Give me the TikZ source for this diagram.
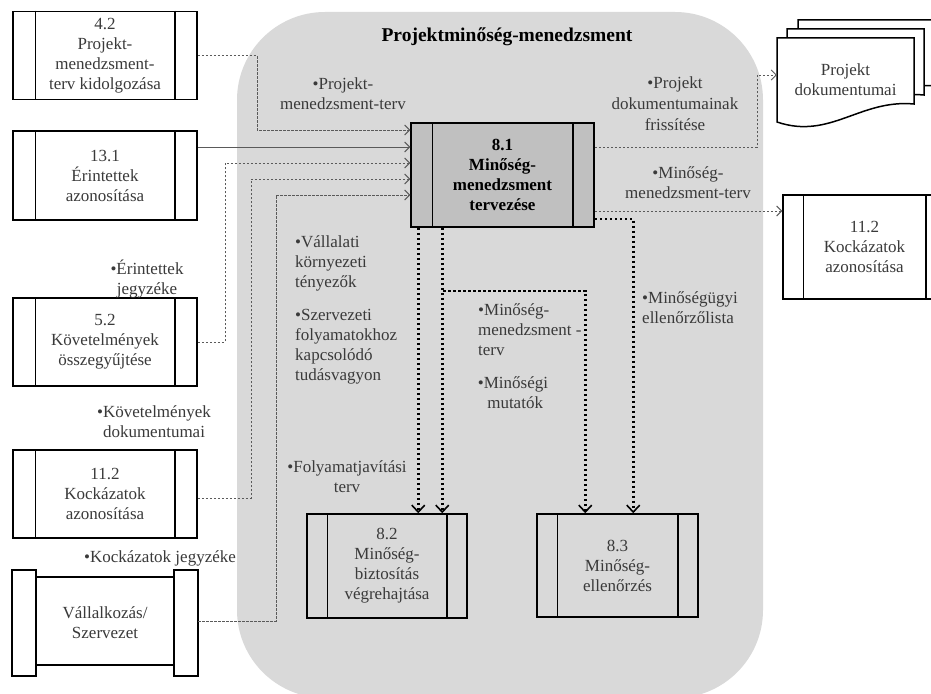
\documentclass[tikz,border=0pt]{standalone}
\usepackage{fontspec}
\setmainfont{Liberation Serif}
\usetikzlibrary{arrows.meta}
\definecolor{regiongray}{HTML}{D9D9D9}
\definecolor{boxdark}{HTML}{C0C0C0}
\definecolor{txtgray}{HTML}{3A3A3A}
\definecolor{linegray}{HTML}{5A5A5A}
\begin{document}
\begin{tikzpicture}[x=1pt,y=-1pt,
  txt/.style={font=\fontsize{17}{20}\selectfont, text=txtgray, align=center, inner sep=0pt},
  btxt/.style={font=\fontsize{17}{20}\selectfont\bfseries, text=black, align=center, inner sep=0pt},
  pbox/.style={draw=black, line width=1.5pt, minimum width=184pt, minimum height=88pt, inner sep=0pt, txt},
  bar/.style={draw=black, line width=1.5pt},
  dl/.style={draw=linegray, line width=0.9pt, dash pattern=on 2.5pt off 1.5pt},
  sl/.style={draw=linegray, line width=0.9pt},
  arr/.style={-{Straight Barb[length=5pt,width=10pt,line width=0.9pt]}},
  dt/.style={draw=black, line width=2.8pt, dash pattern=on 2.6pt off 2.4pt},
  dtarr/.style={-{Straight Barb[length=7pt,width=13pt,line width=1.6pt]}},
  doc/.style={fill=white, draw=black, line width=1.5pt}
]
\useasboundingbox (0,0) rectangle (931,693);
\fill[white] (0,0) rectangle (931,693);
% region
\fill[regiongray, rounded corners=88pt] (237,12) rectangle (763,698);
\node[font=\fontsize{19.5}{22}\selectfont\bfseries, text=black, inner sep=0pt] (title) at (507,37) {Projektminőség-menedzsment};

% left process boxes
\node[pbox, fill=white] (b42) at (105,55.5) {4.2\\Projekt-\\menedzsment-\\terv kidolgozása};
\node[pbox, fill=white, minimum height=89pt] (b131) at (105,175.5) {13.1\\Érintettek\\azonosítása};
\node[pbox, fill=white] (b52) at (105,342) {5.2\\Követelmények\\összegyűjtése};
\node[pbox, fill=white] (b112l) at (105,494) {11.2\\Kockázatok\\azonosítása};
\foreach \n in {b42,b131,b52,b112l}{
  \draw[bar] ([xshift=23pt]\n.north west) -- ([xshift=23pt]\n.south west);
  \draw[bar] ([xshift=-23pt]\n.north east) -- ([xshift=-23pt]\n.south east);
}
% Vallalkozas / Szervezet
\draw[bar, fill=white] (36,577) rectangle (174,665);
\draw[bar, fill=white] (12,570) rectangle (36,676);
\draw[bar, fill=white] (174,570) rectangle (198,676);
\node[txt, minimum width=186pt, minimum height=106pt] (vsz) at (105,623) {Vállalkozás/\\Szervezet};

% central box
\node[pbox, btxt, fill=boxdark, minimum width=183pt, minimum height=104pt] (b81) at (502.5,175) {8.1\\Minőség-\\menedzsment\\tervezése};
\draw[bar] ([xshift=22pt]b81.north west) -- ([xshift=22pt]b81.south west);
\draw[bar] ([xshift=-22pt]b81.north east) -- ([xshift=-22pt]b81.south east);

% 8.2, 8.3
\node[pbox, minimum width=160pt, minimum height=104pt] (b82) at (387,566) {8.2\\Minőség-\\biztosítás\\végrehajtása};
\node[pbox, minimum width=161pt, minimum height=103pt] (b83) at (617.5,565.5) {8.3\\Minőség-\\ellenőrzés};
\foreach \n in {b82,b83}{
  \draw[bar] ([xshift=21pt]\n.north west) -- ([xshift=21pt]\n.south west);
  \draw[bar] ([xshift=-21pt]\n.north east) -- ([xshift=-21pt]\n.south east);
}

% right 11.2
\node[pbox, fill=white, minimum width=163pt, minimum height=104pt] (b112r) at (864.5,247) {11.2\\Kockázatok\\azonosítása};
\draw[bar] ([xshift=21pt]b112r.north west) -- ([xshift=21pt]b112r.south west);
\draw[bar] ([xshift=-21pt]b112r.north east) -- ([xshift=-21pt]b112r.south east);

% document stack
\path[doc] (798,20) -- (935,20) -- (935,86) .. controls (881,81) and (851,122) .. (798,104) -- cycle;
\path[doc] (787,29) -- (924,29) -- (924,95) .. controls (870,90) and (840,131) .. (787,113) -- cycle;
\path[doc] (777,38) -- (914,38) -- (914,104) .. controls (860,99) and (830,140) .. (777,122) -- cycle;
\node[txt, minimum width=137pt, minimum height=84pt] (pd) at (845.5,80) {Projekt\\dokumentumai};

% labels
\node[txt] (l1) at (343,94) {•Projekt-\\menedzsment-terv};
\node[txt, font=\fontsize{17}{21}\selectfont] (l2) at (675,104) {•Projekt\\dokumentumainak\\frissítése};
\node[txt] (l3) at (688,183) {•Minőség-\\menedzsment-terv};
\node[txt] (l4) at (147,279) {•Érintettek\\jegyzéke};
\node[txt] (l5) at (154,422) {•Követelmények\\dokumentumai};
\node[txt] (l6) at (160,558) {•Kockázatok jegyzéke};
\node[txt, align=left, anchor=west] (l7) at (295,263) {•Vállalati\\környezeti\\tényezők};
\node[txt, align=left, anchor=west] (l8) at (295,347) {•Szervezeti\\folyamatokhoz\\kapcsolódó\\tudásvagyon};
\node[txt, align=left, anchor=west] (l9) at (478,330) {•Minőség-\\menedzsment -\\terv};
\node[txt] (l10) at (513,393) {•Minőségi\\\ mutatók};
\node[txt, align=left, anchor=west] (l11) at (642,308) {•Minőségügyi\\ellenőrzőlista};
\node[txt] (l12) at (347,477) {•Folyamatjavítási\\terv};

% input connectors
\draw[dl, arr] (b42.east) -| (257,130) -- ([yshift=45pt]b81.west);
\draw[sl, arr] ([yshift=28.5pt]b131.east) -- ([yshift=28pt]b81.west);
\draw[dl, arr] (b52.east) -| (225,163) -- ([yshift=12pt]b81.west);
\draw[dl, arr] ([yshift=-4pt]b112l.east) -| (251,179) -- ([yshift=-4pt]b81.west);
\draw[dl, arr] ([yshift=2pt]vsz.east) -| (276,195) -- ([yshift=-20pt]b81.west);

% output connectors
\draw[dl, arr] ([yshift=28pt]b81.east) -| (757,75) -- ([yshift=5pt]pd.west);
\draw[dl, arr] ([yshift=-36pt]b81.east) -- ([yshift=36pt]b112r.west);

% dotted connectors
\draw[dt, dtarr] ([xshift=8pt]b81.south west) -- ([xshift=112pt]b82.north west);
\draw[dt, dtarr] ([xshift=32pt]b81.south west) -- ([xshift=136pt]b82.north west);
\draw[dt, dtarr] (443,291) -| ([xshift=49pt]b83.north west);
\draw[dt, dtarr] ([yshift=-44pt]b81.east) -| ([xshift=97pt]b83.north west);
\end{tikzpicture}
\end{document}
